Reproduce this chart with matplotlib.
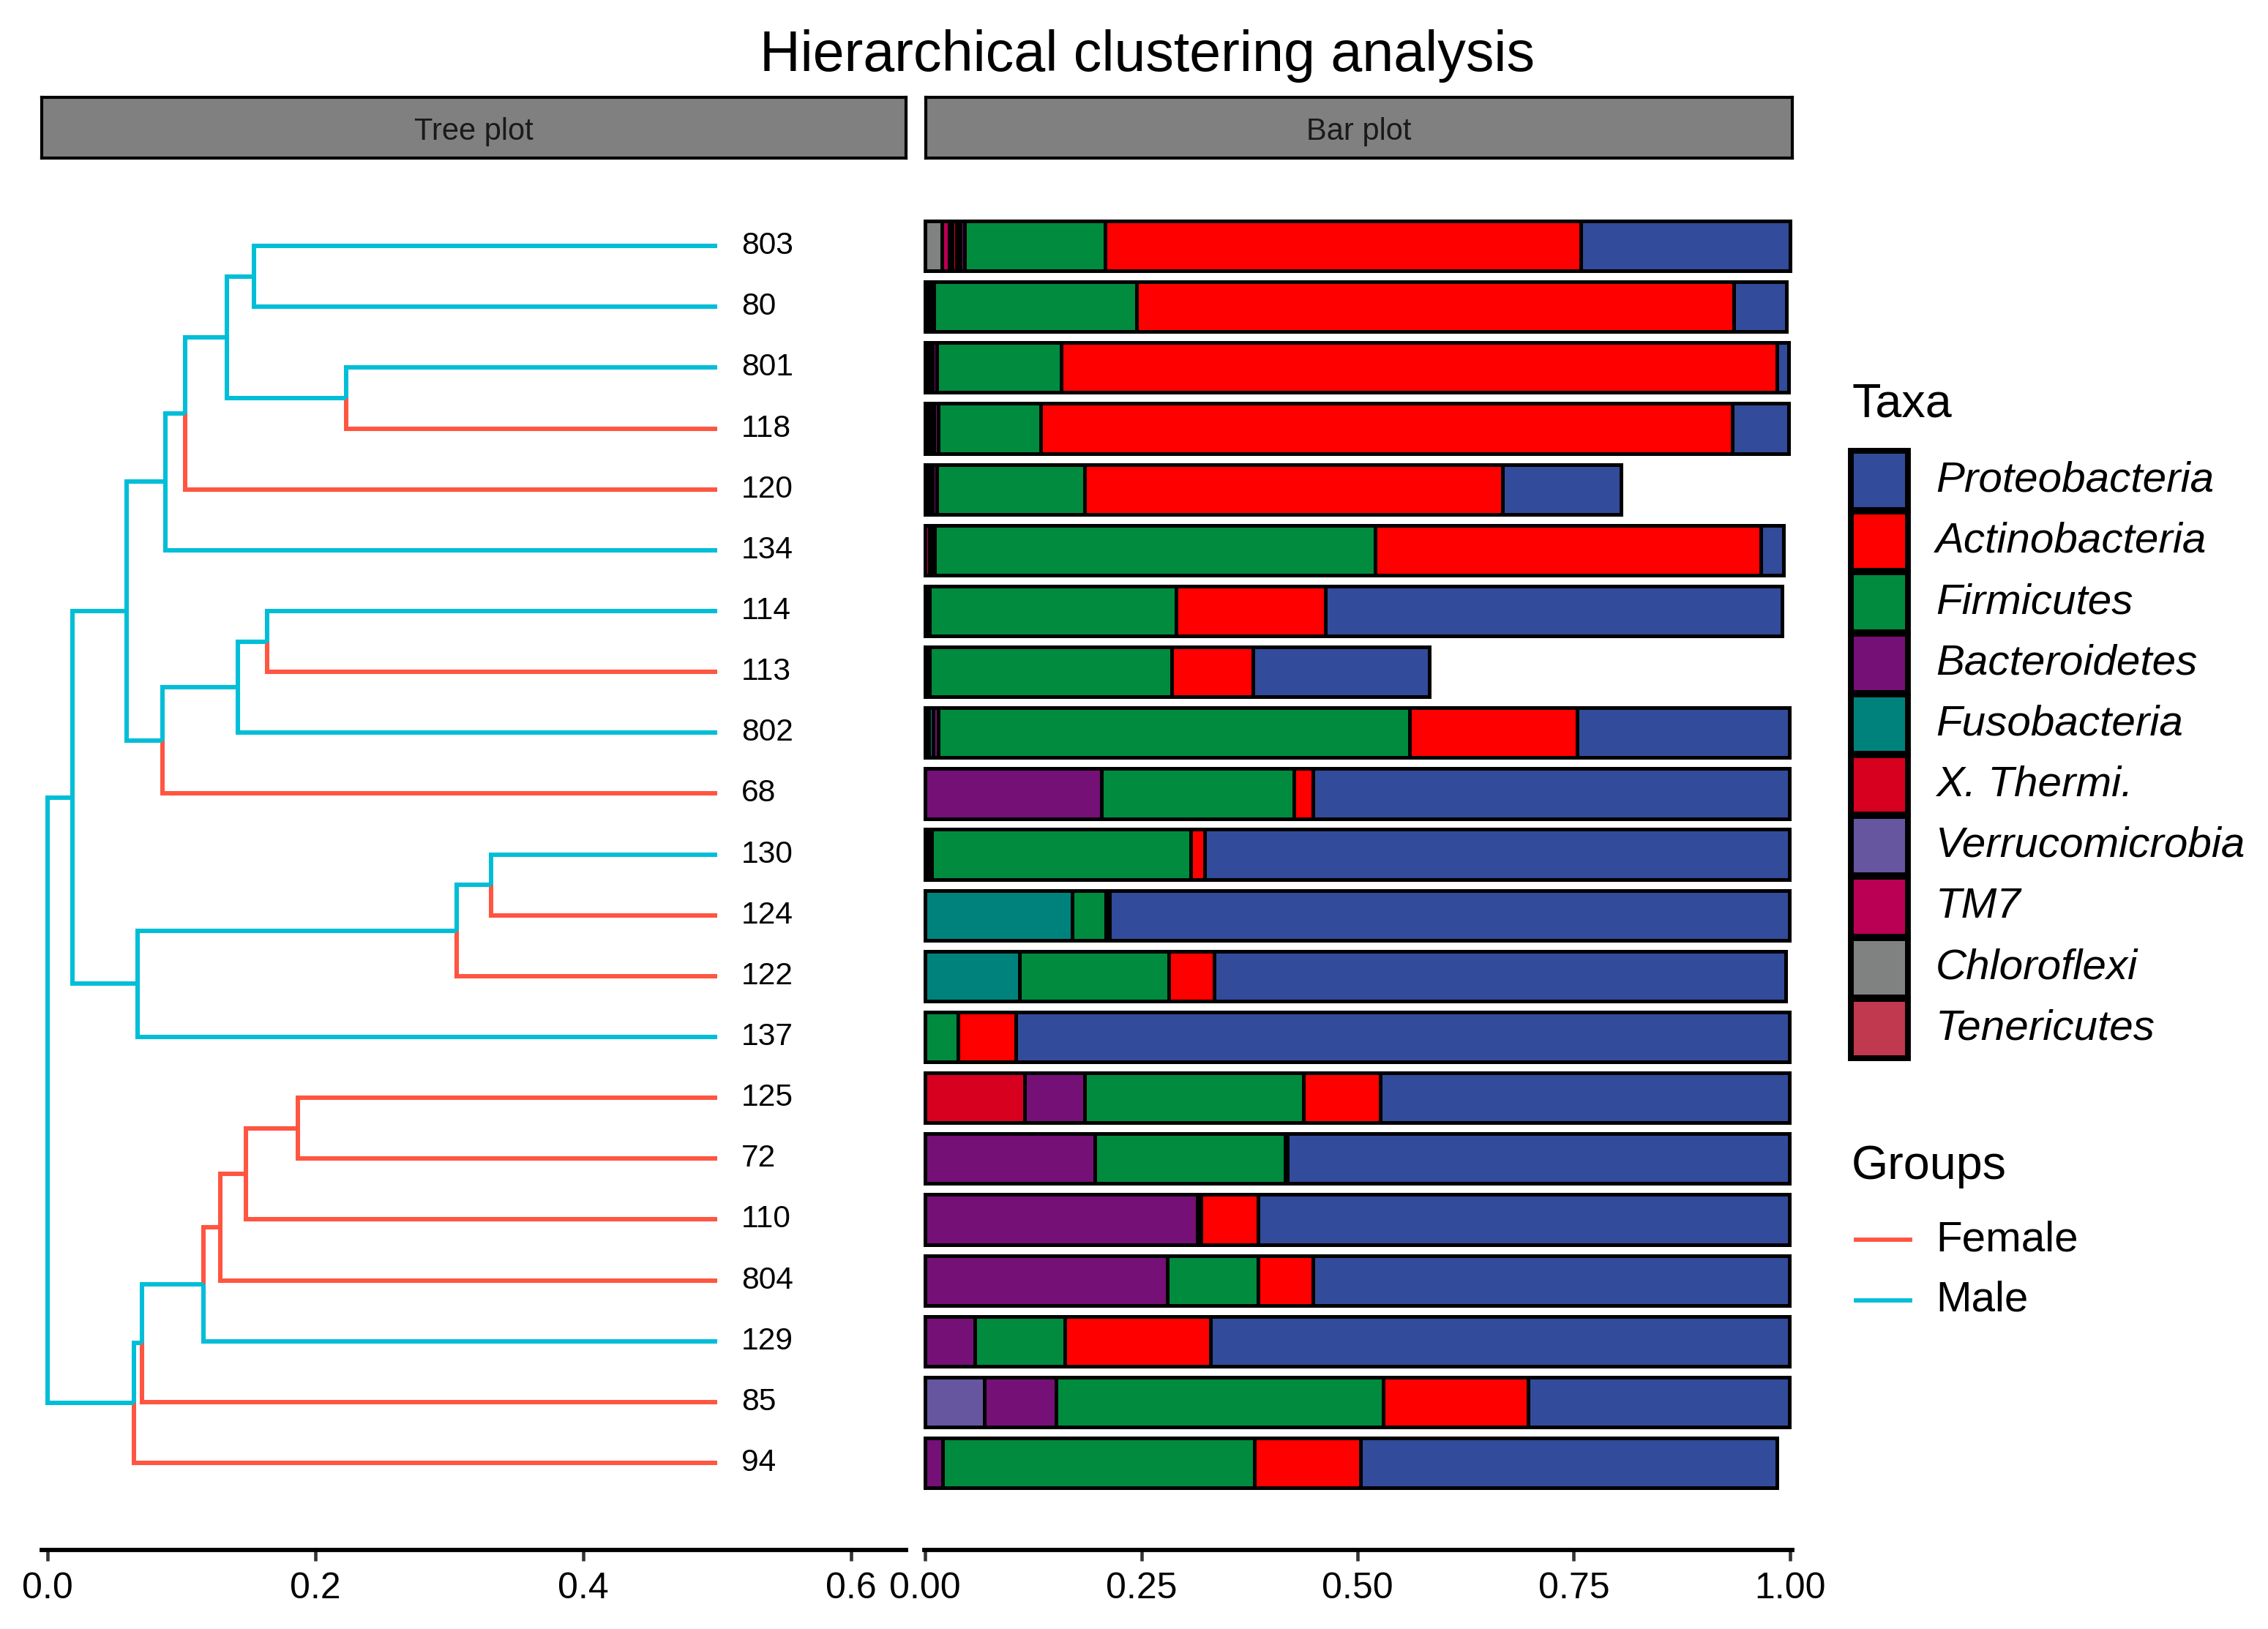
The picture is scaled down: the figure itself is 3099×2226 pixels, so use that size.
import numpy as np
import matplotlib
matplotlib.use('Agg')
import matplotlib.pyplot as plt
from matplotlib.patches import Rectangle
from matplotlib.lines import Line2D

plt.rcParams['font.family'] = ['Liberation Sans', 'DejaVu Sans']

# samples in dendrogram order (top to bottom) and their group
samples = ['803', '80', '801', '118', '120', '134', '114', '113', '802', '68', '130',
           '124', '122', '137', '125', '72', '110', '804', '129', '85', '94']
groups = ['Male', 'Male', 'Male', 'Female', 'Female', 'Male', 'Male', 'Female', 'Male', 'Female', 'Male',
          'Female', 'Female', 'Male', 'Female', 'Female', 'Female', 'Female', 'Male', 'Female', 'Female']

# tree merges: node = child_a + child_b, at distance node_x from the root
merge_node = ['n1', 'n2', 'n3', 'n4', 'n5', 'n6', 'n7', 'n8', 'n9', 'n10',
              'n11', 'n12', 'n13', 'n14', 'n15', 'n16', 'n17', 'n18', 'n19', 'root']
merge_a = ['803', '801', 'n1', 'n3', 'n4', '114', 'n6', 'n7', 'n5', '130',
           'n10', 'n11', 'n9', '125', 'n14', 'n15', 'n16', 'n17', 'n18', 'n13']
merge_b = ['80', '118', 'n2', '120', '134', '113', '802', '68', 'n8', '124',
           '122', '137', 'n12', '72', '110', '804', '129', '85', '94', 'n19']
merge_x = [0.154, 0.223, 0.134, 0.1025, 0.088, 0.164, 0.142, 0.0856, 0.0587, 0.331,
           0.3056, 0.0672, 0.0184, 0.187, 0.148, 0.1286, 0.1163, 0.0702, 0.0645, 0.0]
leaf_x = 0.5

# relative abundance per taxon, same sample order as above
proteobacteria = [0.242, 0.061, 0.0137, 0.065, 0.137, 0.027, 0.528, 0.204, 0.245, 0.551, 0.676,
                  0.786, 0.661, 0.894, 0.473, 0.580, 0.614, 0.551, 0.669, 0.302, 0.482]
actinobacteria = [0.550, 0.691, 0.828, 0.800, 0.484, 0.446, 0.173, 0.094, 0.194, 0.022, 0.016,
                  0.004, 0.052, 0.067, 0.089, 0.003, 0.066, 0.063, 0.169, 0.167, 0.122]
firmicutes = [0.1625, 0.234, 0.1436, 0.119, 0.171, 0.509, 0.285, 0.280, 0.545, 0.222, 0.300,
              0.039, 0.173, 0.038, 0.253, 0.220, 0.004, 0.105, 0.104, 0.379, 0.361]
bacteroidetes = [0.0055, 0.004, 0.0054, 0.0048, 0.005, 0.003, 0.003, 0.003, 0.006, 0.204, 0.004,
                 0, 0, 0, 0.069, 0.196, 0.315, 0.280, 0.057, 0.083, 0.020]
fusobacteria = [0.004, 0.003, 0.004, 0.004, 0.004, 0.003, 0.002, 0.002, 0.005, 0, 0.003,
                0.170, 0.109, 0, 0, 0, 0, 0, 0, 0, 0]
x_thermi = [0.005, 0, 0, 0.004, 0, 0, 0, 0, 0, 0, 0,
            0, 0, 0, 0.115, 0, 0, 0, 0, 0, 0]
verrucomicrobia = [0.003, 0, 0, 0, 0, 0, 0, 0, 0, 0, 0,
                   0, 0, 0, 0, 0, 0, 0, 0, 0.068, 0]
tm7 = [0.009, 0, 0.004, 0, 0, 0.005, 0, 0, 0.004, 0, 0,
       0, 0, 0, 0, 0, 0, 0, 0, 0, 0]
chloroflexi = [0.019, 0, 0, 0, 0, 0, 0, 0, 0, 0, 0,
               0, 0, 0, 0, 0, 0, 0, 0, 0, 0]
tenericutes = [0, 0.003, 0, 0.002, 0.004, 0, 0, 0, 0, 0, 0,
               0, 0, 0, 0, 0, 0, 0, 0, 0, 0]

taxa = ['Proteobacteria', 'Actinobacteria', 'Firmicutes', 'Bacteroidetes', 'Fusobacteria',
        'X. Thermi.', 'Verrucomicrobia', 'TM7', 'Chloroflexi', 'Tenericutes']
taxa_colors = ['#324B9A', '#FF0000', '#008B3F', '#751076', '#00827C',
               '#D7001F', '#6656A0', '#BA0055', '#7F8280', '#C0394E']
abund = [proteobacteria, actinobacteria, firmicutes, bacteroidetes, fusobacteria,
         x_thermi, verrucomicrobia, tm7, chloroflexi, tenericutes]

group_colors = {'Female': '#FF5541', 'Male': '#00BED7'}

W, H = 3099, 2226
fig = plt.figure(figsize=(W / 300, H / 300), dpi=300)


def fx(px):
    return px / W


def fy(py):
    return 1 - py / H


n = len(samples)
ys = np.arange(n, 0, -1)
ylim = (1 - 1.43, n + 1.42)
panel_top, panel_bot = 218, 2118

# ---------------- tree panel ----------------
ax_t = fig.add_axes([fx(57), fy(panel_bot), fx(1238) - fx(57), (panel_bot - panel_top) / H])
pos = {}
grp = {}
for s, g, y in zip(samples, groups, ys):
    pos[s] = (leaf_x, y)
    grp[s] = g
for node, a, b, x in zip(merge_node, merge_a, merge_b, merge_x):
    ya = pos[a][1]
    yb = pos[b][1]
    py = (ya + yb) / 2
    pos[node] = (x, py)
    grp[node] = 'Female' if (grp[a] == 'Female' and grp[b] == 'Female') else 'Male'
    for c in (a, b):
        cx, cy = pos[c]
        ax_t.plot([x, x, cx], [py, cy, cy], color=group_colors[grp[c]], lw=1.45,
                  solid_joinstyle='miter', solid_capstyle='butt')

for s, y in zip(samples, ys):
    ax_t.text(0.518, y, s, fontsize=10.2, va='center', ha='left', color='black')

ax_t.set_xlim(-0.0045, 0.6409)
ax_t.set_ylim(*ylim)
ax_t.set_xticks([0.0, 0.2, 0.4, 0.6])
ax_t.set_xticklabels(['0.0', '0.2', '0.4', '0.6'])
ax_t.set_yticks([])
for sp in ['top', 'right', 'left']:
    ax_t.spines[sp].set_visible(False)

# ---------------- bar panel ----------------
ax_b = fig.add_axes([fx(1263), fy(panel_bot), fx(2449) - fx(1263), (panel_bot - panel_top) / H])
left = np.zeros(n)
for vals, col in zip(abund[::-1], taxa_colors[::-1]):
    vals = np.array(vals, dtype=float)
    m = vals > 0
    ax_b.barh(ys[m], vals[m], left=left[m], height=0.82, color=col,
              edgecolor='black', linewidth=1.2, clip_on=False)
    left += vals

ax_b.set_xlim(-0.0011, 1.0028)
ax_b.set_ylim(*ylim)
ax_b.set_xticks([0, 0.25, 0.5, 0.75, 1.0])
ax_b.set_xticklabels(['0.00', '0.25', '0.50', '0.75', '1.00'])
ax_b.set_yticks([])
for sp in ['top', 'right', 'left']:
    ax_b.spines[sp].set_visible(False)

for ax in (ax_t, ax_b):
    ax.spines['bottom'].set_linewidth(1.4)
    ax.spines['bottom'].set_color('black')
    ax.tick_params(axis='x', length=3.6, width=1.1, color='#333333', pad=3.6,
                   labelsize=12, labelcolor='black')
    ax.set_facecolor('none')

# ---------------- strips ----------------
for x0, x1, label in [(57, 1238, 'Tree plot'), (1265, 2449, 'Bar plot')]:
    sax = fig.add_axes([fx(x0), fy(216), fx(x1) - fx(x0), (216 - 133) / H])
    sax.set_facecolor('#808080')
    sax.set_xticks([])
    sax.set_yticks([])
    for sp in sax.spines.values():
        sp.set_color('black')
        sp.set_linewidth(1.0)
    sax.text(0.5, 0.43, label, ha='center', va='center', fontsize=10, color='#1A1A1A',
             transform=sax.transAxes)

# ---------------- title ----------------
fig.text(fx(1568), fy(97), 'Hierarchical clustering analysis', ha='center', va='baseline',
         fontsize=18.5, color='black')

# ---------------- legends ----------------
fig.text(fx(2530), fy(569), 'Taxa', ha='left', va='baseline', fontsize=15.5, color='black')
key_top, key_h = 615, 83.2
for i, (t, col) in enumerate(zip(taxa, taxa_colors)):
    y0 = key_top + i * key_h
    fig.patches.append(Rectangle((fx(2529), fy(y0 + key_h - 1)), fx(2607) - fx(2529), (key_h - 2) / H,
                                 transform=fig.transFigure, facecolor=col, edgecolor='black',
                                 linewidth=1.9))
    fig.text(fx(2645), fy(y0 + key_h / 2), t, ha='left', va='center', fontsize=14,
             style='italic', color='black')

fig.text(fx(2530), fy(1611), 'Groups', ha='left', va='baseline', fontsize=15.5, color='black')
for g, yy in [('Female', 1694), ('Male', 1777)]:
    fig.lines.append(Line2D([fx(2536), fx(2610)], [fy(yy), fy(yy)], transform=fig.transFigure,
                            color=group_colors[g], lw=1.4))
    fig.text(fx(2645), fy(yy), g, ha='left', va='center', fontsize=14, color='black')

fig.savefig('out.png', dpi=300, facecolor='white')
